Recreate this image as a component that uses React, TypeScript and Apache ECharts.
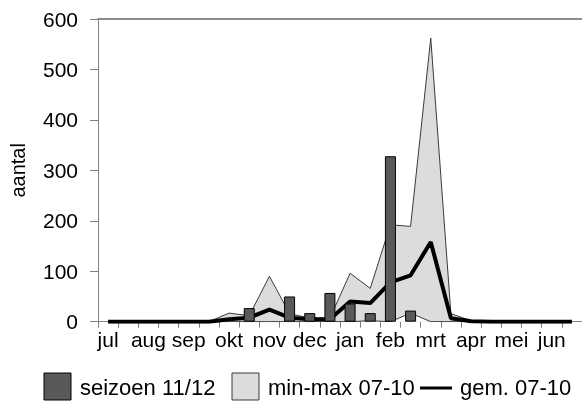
import React, { useEffect, useRef } from "react";
import * as echarts from "echarts";

const months = ["jul", "aug", "sep", "okt", "nov", "dec", "jan", "feb", "mrt", "apr", "mei", "jun"];
// two periods per month
const categories = months.flatMap((m) => [m, m + "-2"]);

const seizoen = [null, null, null, null, null, null, null, 27, null, 50, 17, 57, 36, 17, 328, 22, null, null, null, null, null, null, null, null];
const maxV = [0, 0, 0, 0, 0, 0, 17, 12, 90, 16, 7, 7, 96, 66, 192, 189, 562, 16, 2, 0, 0, 0, 0, 0];
const minV = [0, 0, 0, 0, 0, 0, 0, 0, 0, 0, 0, 0, 0, 2, 0, 17, 0, 0, 0, 0, 0, 0, 0, 0];
const avgV = [0, 0, 0, 0, 0, 0, 5, 8, 24, 8, 5, 5, 40, 37, 78, 92, 158, 7, 1, 0, 0, 0, 0, 0];

const legendLabels = ["seizoen 11/12", "min-max 07-10", "gem. 07-10"];
const yTicks = { min: 0, max: 600, interval: 100 };

const FONT = "'Liberation Sans', Arial, sans-serif";

export default function App() {
  const ref = useRef<HTMLDivElement>(null);
  useEffect(() => {
    const chart = echarts.init(ref.current!, null, { renderer: "svg" });
    chart.setOption({
      animation: false,
      textStyle: { fontFamily: FONT },
      grid: { left: 88, top: 19, width: 496, height: 302.7, containLabel: false },
      xAxis: [
        {
          type: "category",
          data: categories,
          boundaryGap: true,
          axisLine: { lineStyle: { color: "#808080", width: 1 } },
          axisTick: { show: true, interval: 0, length: 6, lineStyle: { color: "#808080" } },
          axisLabel: {
            interval: 1,
            margin: 7,
            color: "#000",
            fontSize: 21,
            fontFamily: FONT,
          },
          splitLine: { show: false },
        },
        {
          type: "category",
          data: categories,
          position: "top",
          axisLine: { lineStyle: { color: "#8c8c8c", width: 2 } },
          axisTick: { show: false },
          axisLabel: { show: false },
        },
      ],
      yAxis: {
        type: "value",
        min: yTicks.min,
        max: yTicks.max,
        interval: yTicks.interval,
        name: "aantal",
        nameLocation: "middle",
        nameGap: 70,
        nameRotate: 90,
        nameTextStyle: { color: "#000", fontSize: 20, fontFamily: FONT },
        axisLine: { show: true, lineStyle: { color: "#808080", width: 1 } },
        axisTick: { show: true, length: 8, lineStyle: { color: "#808080" } },
        axisLabel: { margin: 20, color: "#000", fontSize: 21, fontFamily: FONT },
        splitLine: { show: false },
      },
      series: [
        {
          name: legendLabels[1],
          type: "line",
          data: maxV,
          symbol: "none",
          lineStyle: { color: "#3a3a3a", width: 1 },
          areaStyle: { color: "#dcdcdc", opacity: 1 },
          z: 2,
        },
        {
          name: "min",
          type: "line",
          data: minV,
          symbol: "none",
          lineStyle: { color: "#3a3a3a", width: 1 },
          areaStyle: { color: "#ffffff", opacity: 1 },
          z: 3,
        },
        {
          name: legendLabels[2],
          type: "line",
          data: avgV,
          symbol: "none",
          lineStyle: { color: "#000", width: 4 },
          z: 4,
        },
        {
          name: legendLabels[0],
          type: "bar",
          data: seizoen,
          barWidth: 11,
          itemStyle: { color: "#595959", borderColor: "#000", borderWidth: 1 },
          z: 5,
        },
      ],
      graphic: [
        { type: "rect", shape: { x: 44, y: 373, width: 27, height: 27 }, style: { fill: "#595959", stroke: "#000", lineWidth: 1 } },
        { type: "text", x: 80, y: 387, style: { text: legendLabels[0], fill: "#000", font: `22px ${FONT}`, verticalAlign: "middle" } },
        { type: "rect", shape: { x: 232, y: 373, width: 27, height: 27 }, style: { fill: "#dcdcdc", stroke: "#3a3a3a", lineWidth: 1 } },
        { type: "text", x: 268, y: 387, style: { text: legendLabels[1], fill: "#000", font: `22px ${FONT}`, verticalAlign: "middle" } },
        { type: "line", shape: { x1: 420, y1: 388, x2: 452, y2: 388 }, style: { stroke: "#000", lineWidth: 3 } },
        { type: "text", x: 460, y: 387, style: { text: legendLabels[2], fill: "#000", font: `22px ${FONT}`, verticalAlign: "middle" } },
      ],
    });
    return () => chart.dispose();
  }, []);
  return <div ref={ref} style={{ position: "fixed", left: 0, top: 0, width: 582, height: 404 }} />;
}
